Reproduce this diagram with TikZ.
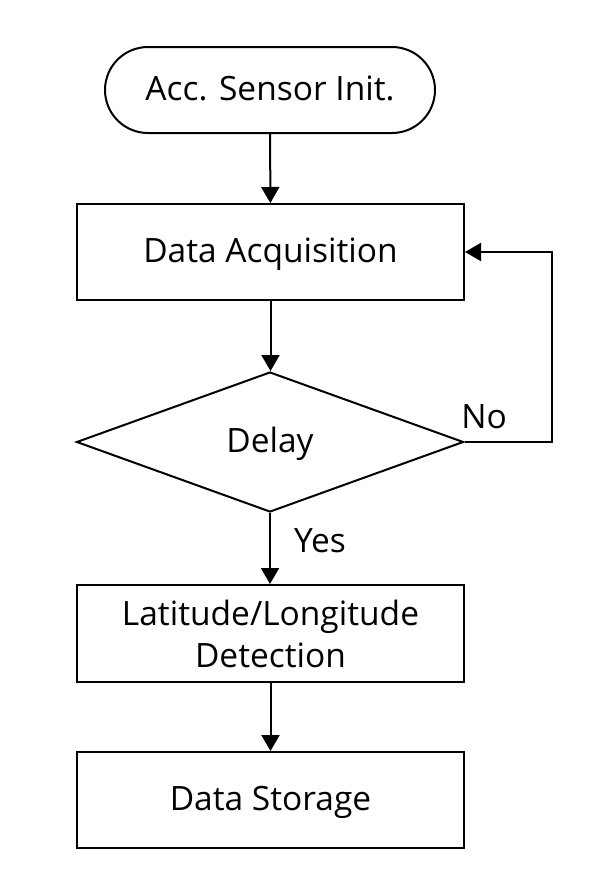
\documentclass[tikz,border=0pt]{standalone}
\usepackage{fontspec}
\setmainfont{Open Sans}
\usepackage{tikz}
\usetikzlibrary{arrows.meta}
\usetikzlibrary{shapes.geometric,shapes.misc}
\usetikzlibrary{positioning}

\begin{document}
\begin{tikzpicture}[x=1pt,y=-1pt,
	every node/.style={font=\fontsize{33.5}{42}\selectfont},
	oneline/.style={text height=27pt,text depth=6pt},
	startstop/.style={rounded rectangle,draw,line width=2pt,minimum width=330pt,minimum height=86pt,inner sep=0pt,oneline},
	procbox/.style={rectangle,draw,line width=2pt,minimum width=387pt,minimum height=96pt,inner sep=0pt,align=center},
	decide/.style={diamond,draw,line width=2pt,aspect=2.76,minimum width=387pt,minimum height=140pt,inner sep=0pt,oneline},
	flow/.style={line width=2pt,-{Triangle[length=16pt,width=18pt]}}]

					\useasboundingbox (0,0) rectangle (600,873);
					\node[startstop] (init) at (270,90) {Acc. Sensor Init.};
					\node[procbox,oneline] (acq) at (270.5,252) {Data Acquisition};
					\node[decide] (delay) at (270,442) {Delay};
					\node[procbox,minimum height=97pt] (latlon) at (270.5,633.5) {Latitude/Longitude\\Detection};
					\node[procbox,oneline] (store) at (270.5,800) {Data Storage};
					\coordinate (loopA) at (552,442);
					\coordinate (loopB) at (552,252);

					\draw[flow] (init) -- (acq);
					\draw[flow] (acq.south) -- (acq.south |- delay.north);
					\draw[flow] (delay.south) -- (delay.south |- latlon.north);
					\draw[flow] (latlon) -- (store);
					\draw[flow] (delay.east) -- (loopA) -- (loopB) -- (acq.east);

					\node (no) at (484,417) {No};
					\node (yes) at (320,541) {Yes};
				\end{tikzpicture}
\end{document}
